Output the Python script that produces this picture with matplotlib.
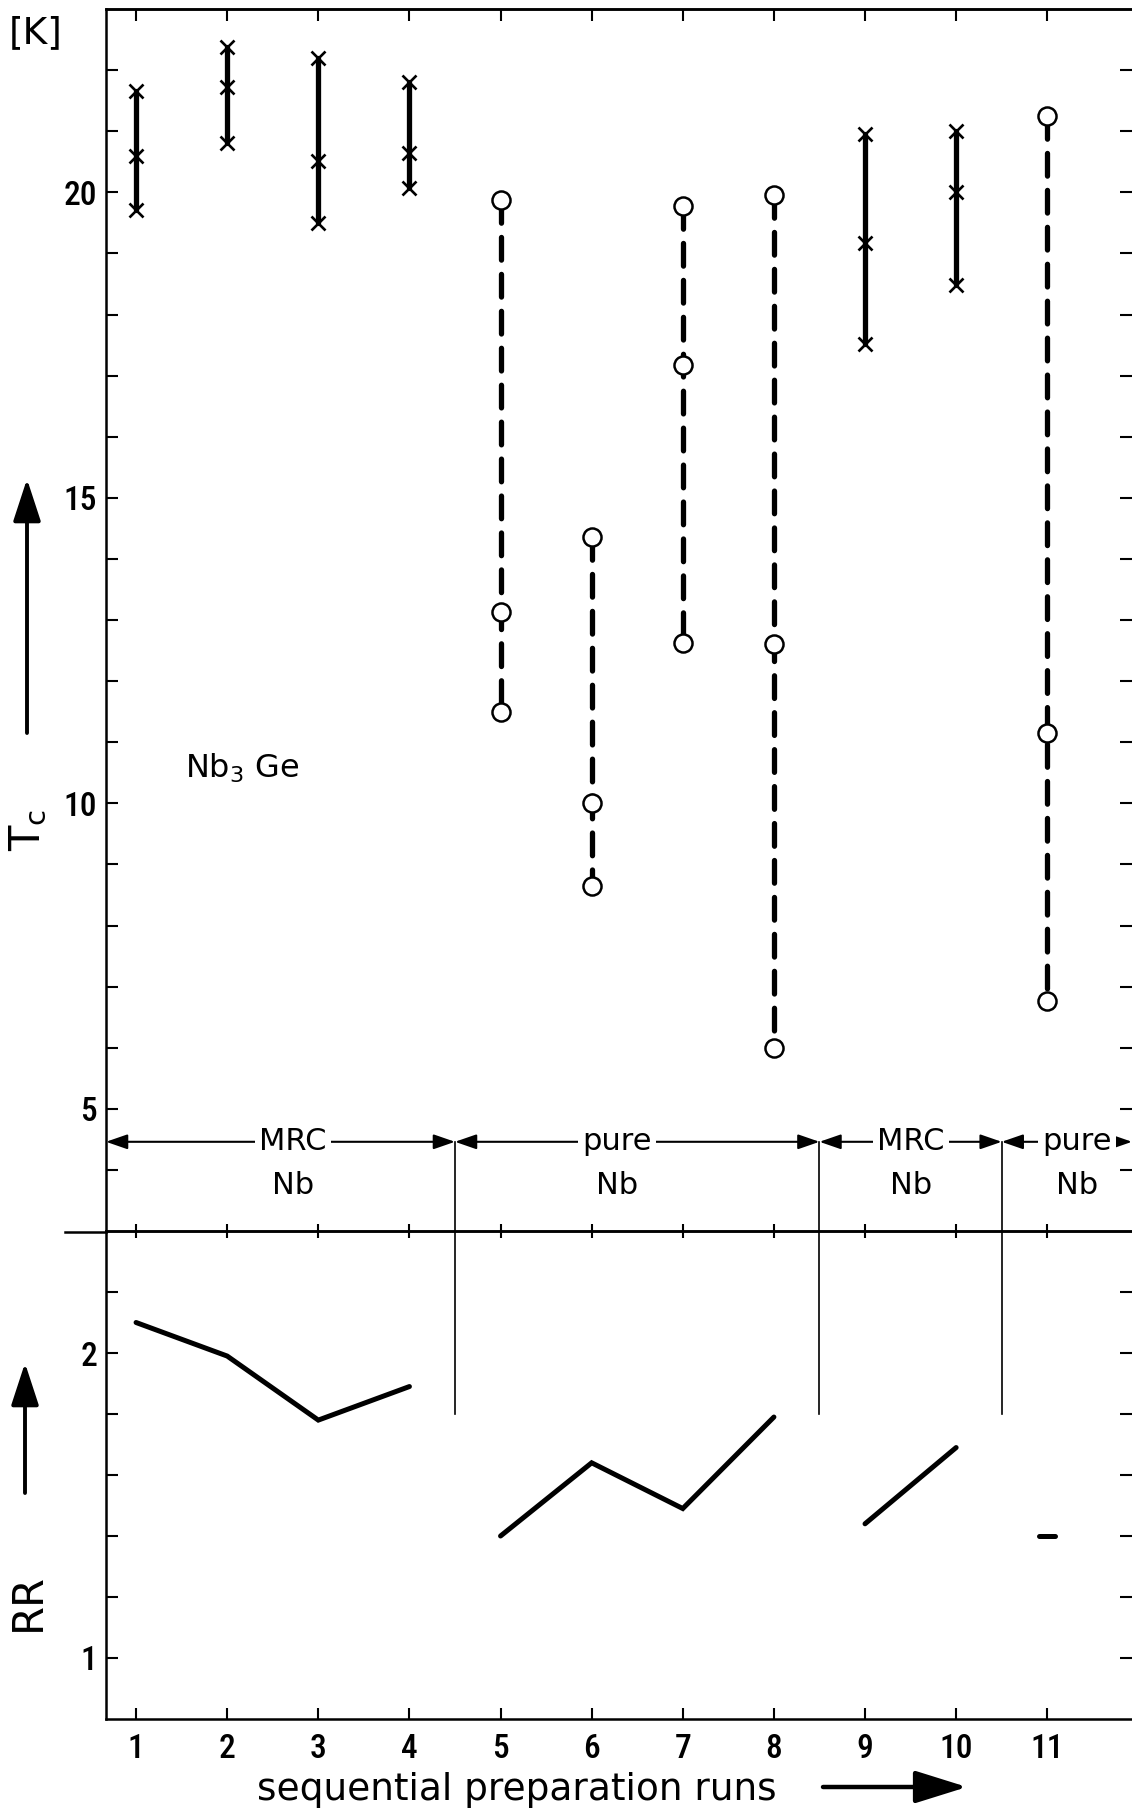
import matplotlib
matplotlib.use('Agg')
import matplotlib.pyplot as plt
from matplotlib.lines import Line2D

plt.rcParams['font.family'] = ['DejaVu Sans']
plt.rcParams['mathtext.default'] = 'regular'
TICKFONT = ['Roboto Condensed', 'DejaVu Sans']

# ---------------- data ----------------
cross_runs = [1, 2, 3, 4, 9, 10]
cross_tc = [
    [21.66, 20.59, 19.71],
    [22.38, 21.73, 20.80],
    [22.19, 20.52, 19.49],
    [21.80, 20.64, 20.07],
    [20.95, 19.17, 17.51],
    [21.00, 20.00, 18.49],
]
circle_runs = [5, 6, 7, 8, 11]
circle_tc = [
    [19.87, 13.13, 11.49],
    [14.36, 10.00, 8.64],
    [19.77, 17.18, 12.62],
    [19.95, 12.60, 6.00],
    [21.25, 11.15, 6.77],
]
rr_runs_a = [1, 2, 3, 4]
rr_a = [2.10, 1.99, 1.78, 1.89]
rr_runs_b = [5, 6, 7, 8]
rr_b = [1.40, 1.64, 1.49, 1.79]
rr_runs_c = [9, 10]
rr_c = [1.44, 1.69]
rr_run_d = 11
rr_d = 1.40

section_bounds = [0.67, 4.5, 8.5, 10.5, 11.93]
section_top = ['MRC', 'pure', 'MRC', 'pure']
section_bottom = ['Nb', 'Nb', 'Nb', 'Nb']
section_label_x = [2.72, 6.28, 9.5, 11.33]
divider_runs = [4.5, 8.5, 10.5]

run_ticks = list(range(1, 12))
run_labels = [str(r) for r in run_ticks]
tc_ticks = list(range(4, 23))
tc_labels = [str(t) if t % 5 == 0 else '' for t in tc_ticks]
rr_ticks = [1.0, 1.2, 1.4, 1.6, 1.8, 2.0, 2.2]
rr_labels = ['1', '', '', '', '', '2', '']

W, H = 1132, 1811


def fx(px):
    return px / W


def fy(py):
    return 1 - py / H


fig = plt.figure(figsize=(W / 100, H / 100), dpi=100)
ax1 = fig.add_axes([fx(106), fy(1231), fx(1132) - fx(106), fy(9) - fy(1231)])
ax2 = fig.add_axes([fx(106), fy(1719), fx(1132) - fx(106), fy(1231) - fy(1719)])
ax2.patch.set_visible(False)

XL = (0.67, 11.93)
for ax in (ax1, ax2):
    ax.set_xlim(*XL)
    ax.spines['right'].set_visible(False)
    for s in ('left', 'top', 'bottom'):
        ax.spines[s].set_linewidth(1.8)
ax1.set_ylim(3, 23)
ax2.set_ylim(0.8, 2.4)

# ---------- upper panel -----------
for r, vals in zip(cross_runs, cross_tc):
    ax1.plot([r] * len(vals), vals, color='k', lw=3.8, solid_capstyle='round', zorder=2)
    ax1.plot([r] * len(vals), vals, ls='none', marker='x', ms=10, mew=1.9, color='k', zorder=3)
for r, vals in zip(circle_runs, circle_tc):
    ax1.plot([r] * len(vals), vals, color='k', lw=3.8, ls=(0, (4.3, 2.7)),
             dash_capstyle='round', zorder=2)
    ax1.plot([r] * len(vals), vals, ls='none', marker='o', ms=13, mew=1.8,
             mfc='white', mec='k', zorder=3)

ax1.set_yticks(tc_ticks)
ax1.set_yticklabels(tc_labels, fontfamily=TICKFONT, fontweight='medium')
ax1.tick_params(axis='y', direction='in', length=8.6, width=1.5, left=True, right=True,
                labelsize=24, pad=6.5)
ax1.set_xticks(run_ticks)
ax1.tick_params(axis='x', direction='inout', length=9.5, width=1.5, bottom=True, top=False,
                labelbottom=False)
sec = ax1.secondary_xaxis('top')
sec.set_xticks(run_ticks)
sec.tick_params(axis='x', direction='in', length=8.6, width=1.5, labeltop=False)
sec.spines['top'].set_linewidth(1.8)

ax1.text(1.54, 10.57, r'Nb$_{3}$ Ge', fontsize=23, ha='left', va='center')

# section arrows
arrow_y = 4.46
for i in range(4):
    a, b = section_bounds[i], section_bounds[i + 1]
    ax1.annotate('', xy=(b, arrow_y), xytext=(a, arrow_y),
                 arrowprops=dict(arrowstyle='<|-|>,head_length=1.3,head_width=0.45',
                                 lw=1.5, color='k', shrinkA=0, shrinkB=0,
                                 mutation_scale=10),
                 annotation_clip=False, zorder=4)
    ax1.text(section_label_x[i], arrow_y, section_top[i], fontsize=22, ha='center',
             va='center', zorder=5,
             bbox=dict(facecolor='white', edgecolor='none', pad=3))
    ax1.text(section_label_x[i], 3.75, section_bottom[i], fontsize=22, ha='center',
             va='center', zorder=5)
for d in divider_runs:
    ax1.plot([d, d], [arrow_y, 3.0], color='k', lw=1.2, zorder=1)
    ax2.plot([d, d], [2.4, 1.8], color='k', lw=1.2, zorder=1)

# ---------- lower panel -----------
for xs, ys in ((rr_runs_a, rr_a), (rr_runs_b, rr_b), (rr_runs_c, rr_c)):
    ax2.plot(xs, ys, color='k', lw=3.6, solid_capstyle='round', solid_joinstyle='miter')
ax2.plot([rr_run_d - 0.09, rr_run_d + 0.09], [rr_d, rr_d], color='k', lw=3.6,
         solid_capstyle='round')

ax2.set_yticks(rr_ticks)
ax2.set_yticklabels(rr_labels, fontfamily=TICKFONT, fontweight='medium')
ax2.tick_params(axis='y', direction='in', length=8.6, width=1.5, left=True, right=True,
                labelsize=24, pad=6.5)
ax2.set_xticks(run_ticks)
ax2.set_xticklabels(run_labels, fontfamily=TICKFONT, fontweight='medium')
ax2.tick_params(axis='x', direction='in', length=8.0, width=1.5, bottom=True, top=False,
                labelsize=24, pad=10)

# divider extension to the left
fig.add_artist(Line2D([fx(65), fx(106)], [fy(1231.5)] * 2, transform=fig.transFigure,
                      color='k', lw=1.8))

# ---------- axis labels & arrows ----------
fig.text(fx(36), fy(33), '[K]', fontsize=27, ha='center', va='center')
fig.text(fx(28), fy(830), r'T$_{c}$', fontsize=30, rotation=90, ha='center', va='center')
fig.text(fx(28), fy(1602), 'RR', fontsize=30, rotation=90, ha='center', va='center')

arrow_kw = dict(arrowstyle='-|>,head_length=2.6,head_width=0.85', lw=2.8, color='k',
                shrinkA=0, shrinkB=0, mutation_scale=10)
fig.add_artist(matplotlib.patches.FancyArrowPatch((fx(27), fy(733)), (fx(27), fy(479)),
                                                  transform=fig.transFigure, **arrow_kw))
fig.add_artist(matplotlib.patches.FancyArrowPatch((fx(25), fy(1493)), (fx(25), fy(1363)),
                                                  transform=fig.transFigure, **arrow_kw))

fig.text(fx(517), fy(1790), 'sequential preparation runs', fontsize=27, ha='center',
         va='center')
fig.add_artist(matplotlib.patches.FancyArrowPatch(
    (fx(823), fy(1787)), (fx(967), fy(1787)), transform=fig.transFigure,
    arrowstyle='-|>,head_length=3.2,head_width=1.0', lw=3.2, color='k',
    shrinkA=0, shrinkB=0, mutation_scale=10))

fig.savefig('out.png', dpi=100)
